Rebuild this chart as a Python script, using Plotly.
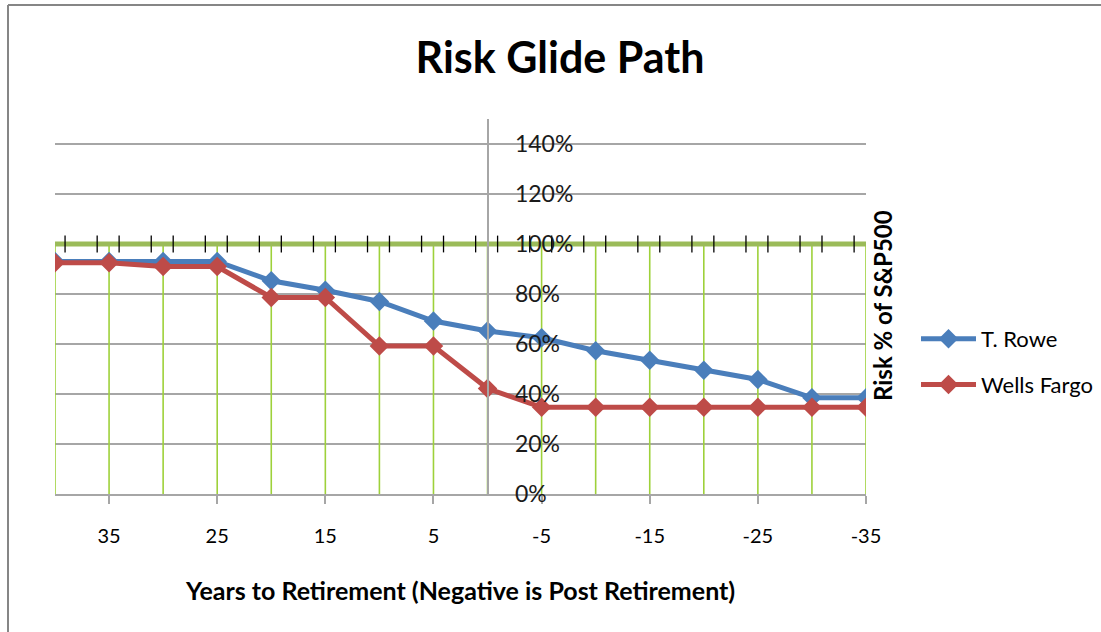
import plotly.graph_objects as go

years = [40, 35, 30, 25, 20, 15, 10, 5, 0, -5, -10, -15, -20, -25, -30, -35]
t_rowe = [0.93, 0.93, 0.93, 0.93, 0.853, 0.815, 0.77, 0.692, 0.652, 0.625, 0.573, 0.535, 0.495, 0.458, 0.385, 0.385]
wells_fargo = [0.925, 0.925, 0.91, 0.91, 0.786, 0.786, 0.592, 0.592, 0.422, 0.347, 0.347, 0.347, 0.347, 0.347, 0.347, 0.347]
benchmark = [1.0, 1.0, 1.0, 1.0, 1.0, 1.0, 1.0, 1.0, 1.0, 1.0, 1.0, 1.0, 1.0, 1.0, 1.0, 1.0]
x_ticks = [35, 25, 15, 5, -5, -15, -25, -35]
x_labels = ["35", "25", "15", "5", "-5", "-15", "-25", "-35"]
y_ticks = [0, 0.2, 0.4, 0.6, 0.8, 1.0, 1.2, 1.4]
y_labels = ["0%", "20%", "40%", "60%", "80%", "100%", "120%", "140%"]

FONT = "Lato"
W, H = 1101, 632
ML, MR, MT, MB = 55, 235, 119, 138
PW = W - ML - MR
PH = H - MT - MB
XMIN, XMAX = 40, -35
YMAX = 1.5

def px_x(p):
    return (p - ML) / PW

def px_y(p):
    return (H - MB - p) / PH

fig = go.Figure()

# 100% reference series with drop lines
fig.add_trace(go.Scatter(
    x=years, y=benchmark, mode="lines", showlegend=False, hoverinfo="skip",
    line=dict(color="#9bbb59", width=5),
    error_y=dict(type="data", symmetric=False, array=[0] * len(benchmark),
                 arrayminus=benchmark, color="#9ed13a", thickness=1.6, width=0),
))

# small black tick marks along the 100% line
tick_x = [y - 0.93 for y in years if y - 0.93 >= XMAX] + [y - 3.9 for y in years if y - 3.9 >= XMAX]
fig.add_trace(go.Scatter(
    x=tick_x, y=[benchmark[0]] * len(tick_x), mode="markers", showlegend=False, hoverinfo="skip",
    marker=dict(symbol="line-ns", size=12, line=dict(color="#000000", width=1.3)),
))

fig.add_trace(go.Scatter(
    x=years, y=t_rowe, name="T. Rowe", mode="lines+markers", legendgroup="a",
    line=dict(color="#4a7ebb", width=5),
    marker=dict(symbol="diamond", size=15, color="#4a7ebb"),
))
fig.add_trace(go.Scatter(
    x=years, y=wells_fargo, name="Wells Fargo", mode="lines+markers", legendgroup="b",
    line=dict(color="#be4b48", width=5),
    marker=dict(symbol="diamond", size=15, color="#be4b48"),
))

border = dict(color="#868686", width=2)
fig.update_layout(
    width=W, height=H,
    margin=dict(l=ML, r=MR, t=MT, b=MB, autoexpand=False),
    paper_bgcolor="white", plot_bgcolor="white",
    font=dict(family=FONT, color="#000000"),
    title=dict(text="<b>Risk Glide Path</b>", x=560 / W, xanchor="center",
               y=1 - 58 / H, yanchor="middle", font=dict(size=43, family=FONT, color="#000000")),
    xaxis=dict(
        range=[XMIN, XMAX], tickmode="array", tickvals=x_ticks, ticktext=x_labels,
        ticks="outside", ticklen=8, tickcolor="#a6a6a6", tickwidth=1.5,
        showline=True, linecolor="#a6a6a6", linewidth=1.5, showgrid=False, zeroline=False,
        tickfont=dict(size=20, family=FONT, color="#000000"), ticklabelstandoff=15,
    ),
    yaxis=dict(
        range=[0, YMAX], tickmode="array", tickvals=y_ticks, ticktext=y_labels,
        anchor="free", position=(XMIN - 0) / (XMIN - XMAX), side="right",
        showline=True, linecolor="#a6a6a6", linewidth=1.5,
        showgrid=True, gridcolor="#a6a6a6", gridwidth=1.5, zeroline=False,
        ticks="", tickfont=dict(size=23, family=FONT, color="#1a1a1a"), ticklabelstandoff=22,
    ),
    legend=dict(
        x=px_x(916), y=px_y(362), xanchor="left", yanchor="middle",
        font=dict(size=22, family=FONT, color="#000000"), tracegroupgap=14,
        bgcolor="rgba(0,0,0,0)", itemwidth=55,
    ),
    shapes=[
        dict(type="line", xref="paper", yref="paper",
             x0=px_x(8), x1=px_x(8), y0=px_y(650), y1=px_y(5), line=border, layer="below"),
        dict(type="line", xref="paper", yref="paper",
             x0=px_x(8), x1=px_x(1101), y0=px_y(5), y1=px_y(5), line=border, layer="below"),
    ],
    annotations=[
        dict(text="<b>Years to Retirement (Negative is Post Retirement)</b>", xref="paper", yref="paper",
             x=px_x(460), y=px_y(590), xanchor="center", yanchor="middle", showarrow=False,
             font=dict(size=25, family=FONT, color="#000000")),
        dict(text="<b>Risk % of S&P500</b>", xref="paper", yref="paper", textangle=-90,
             x=px_x(882), y=px_y(306), xanchor="center", yanchor="middle", showarrow=False,
             font=dict(size=24, family=FONT, color="#000000")),
    ],
)

fig.write_html("out.html", config={"displayModeBar": False},
               post_script="document.body.style.margin='0px';document.body.style.overflow='hidden';"
                           "document.documentElement.style.overflow='hidden';")
